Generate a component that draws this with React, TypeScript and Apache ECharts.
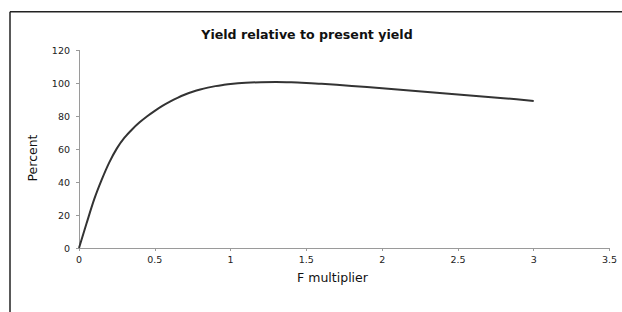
import React, { useEffect, useRef } from "react";
import * as echarts from "echarts";

const fMultiplier = [0, 0.05, 0.1, 0.15, 0.2, 0.25, 0.3, 0.35, 0.4, 0.45, 0.5, 0.55, 0.6, 0.65, 0.7, 0.75, 0.8, 0.85, 0.9, 0.95, 1.0, 1.1, 1.2, 1.3, 1.4, 1.5, 1.6, 1.8, 2.0, 2.2, 2.4, 2.6, 2.8, 3.0];
const percentYield = [0, 15, 29.5, 41.5, 52, 60.5, 67, 72, 76.3, 80, 83.3, 86.3, 88.9, 91.2, 93.2, 94.9, 96.3, 97.4, 98.3, 99.0, 99.6, 100.3, 100.7, 100.8, 100.6, 100.2, 99.7, 98.4, 97.0, 95.5, 94.0, 92.5, 91.0, 89.3];
const titleText = "Yield relative to present yield";
const xName = "F multiplier";
const yName = "Percent";

export default function App() {
  const ref = useRef<HTMLDivElement>(null);
  useEffect(() => {
    if (!ref.current) return;
    const chart = echarts.init(ref.current, null, { renderer: "svg" });
    const font = "DejaVu Sans";
    chart.setOption({
      animation: false,
      backgroundColor: "#ffffff",
      title: {
        text: titleText,
        left: 302,
        top: 23,
        textAlign: "center",
        textStyle: { fontFamily: font, fontSize: 12.6, fontWeight: "bold", color: "#111" },
      },
      grid: { left: 79, right: 12.5, top: 50.4, bottom: 64, containLabel: false },
      xAxis: {
        type: "value",
        min: 0,
        max: 3.5,
        interval: 0.5,
        axisLine: { show: true, lineStyle: { color: "#9a9a9a", width: 1 } },
        axisTick: { show: true, length: 3, lineStyle: { color: "#9a9a9a" } },
        axisLabel: { fontFamily: font, fontSize: 9.5, color: "#222", margin: 6 },
        splitLine: { show: false },
      },
      yAxis: {
        type: "value",
        min: 0,
        max: 120,
        interval: 20,
        axisLine: { show: true, lineStyle: { color: "#9a9a9a", width: 1 } },
        axisTick: { show: true, length: 3, lineStyle: { color: "#9a9a9a" } },
        axisLabel: { fontFamily: font, fontSize: 9.5, color: "#222", margin: 9 },
        splitLine: { show: false },
      },
      series: [
        {
          type: "line",
          data: fMultiplier.map((x, i) => [x, percentYield[i]]),
          smooth: 0.3,
          showSymbol: false,
          lineStyle: { color: "#333333", width: 2 },
        },
      ],
      graphic: [
        { type: "line", shape: { x1: 10, y1: 11.7, x2: 622, y2: 11.7 }, style: { stroke: "#222", lineWidth: 1.5 } },
        { type: "line", shape: { x1: 10, y1: 11.7, x2: 10, y2: 312 }, style: { stroke: "#222", lineWidth: 1.5 } },
        {
          type: "text",
          x: 332.5,
          y: 277,
          style: { text: xName, fontFamily: font, fontSize: 12.5, fill: "#111", align: "center", verticalAlign: "middle" },
        },
        {
          type: "text",
          x: 32,
          y: 158,
          rotation: Math.PI / 2,
          style: { text: yName, fontFamily: font, fontSize: 12.5, fill: "#111", align: "center", verticalAlign: "middle" },
        },
      ],
    });
    return () => chart.dispose();
  }, []);
  return <div ref={ref} style={{ position: "fixed", left: 0, top: 0, width: 622, height: 312 }} />;
}
